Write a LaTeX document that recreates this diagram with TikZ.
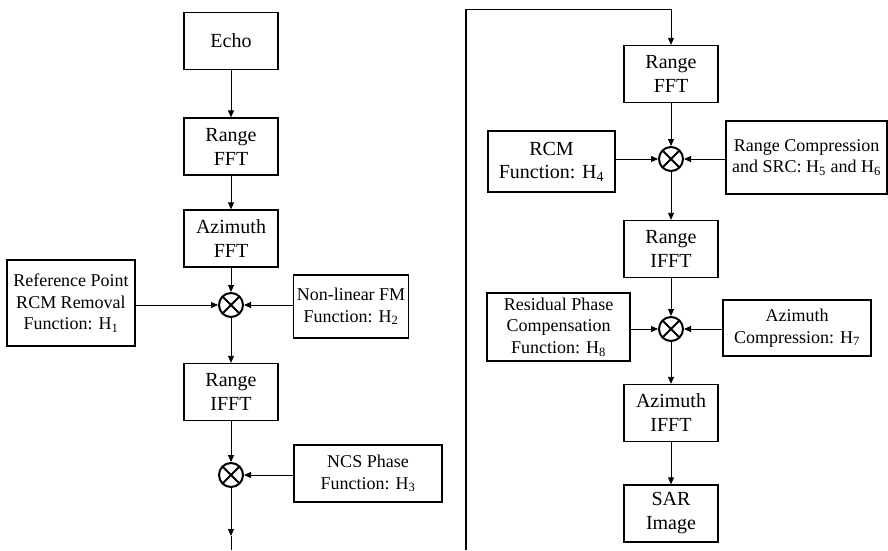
\documentclass[tikz,border=0pt]{standalone}
\usepackage{fontspec}
\setmainfont{Liberation Serif}
\usetikzlibrary{arrows.meta,calc}

\begin{document}
\begin{tikzpicture}[x=1pt,y=-1pt,
  blk/.style={draw,line width=1.3pt,minimum width=94pt,minimum height=57pt,align=center,inner sep=1pt,font=\fontsize{20}{24}\selectfont},
  fn/.style={draw,line width=1.3pt,align=center,inner sep=1pt,font=\fontsize{18}{21.7}\selectfont},
  mult/.style={circle,draw,line width=2pt,minimum size=24pt,inner sep=0pt,
    path picture={\draw[line width=2pt] (path picture bounding box.north west) -- (path picture bounding box.south east)
      (path picture bounding box.north east) -- (path picture bounding box.south west);}},
  arr/.style={line width=0.8pt,-{Triangle[length=7pt,width=6pt]}}]
\useasboundingbox (0,0) rectangle (888,550);

% Left chain
\node[blk] (echo) at (231,41) {Echo};
\node[blk] (rfft) at (231,146.5) {Range\\FFT};
\node[blk] (afft) at (231,238.5) {Azimuth\\FFT};
\node[mult] (m1) at (231,305) {};
\node[fn,minimum width=128pt,minimum height=86pt] (refpt) at (71,303) {Reference Point\\RCM Removal\\Function: H\textsubscript{1}};
\node[fn,minimum width=115pt,minimum height=63pt] (nlfm) at (351,306.5) {Non-linear FM\\Function: H\textsubscript{2}};
\node[blk] (rifft) at (231,392) {Range\\IFFT};
\node[mult] (m2) at (231,475) {};
\node[fn,minimum width=148pt,minimum height=57pt] (ncs) at (368,473.5) {NCS Phase\\Function: H\textsubscript{3}};
\coordinate (outtip) at (231,536);
\coordinate (out) at (231,550);

\draw[arr] (echo) -- (rfft);
\draw[arr] (rfft) -- (afft);
\draw[arr] (afft) -- (m1);
\draw[arr] (refpt.east |- m1) -- (m1);
\draw[arr] (nlfm.west |- m1) -- (m1);
\draw[arr] (m1) -- (rifft);
\draw[arr] (rifft) -- (m2);
\draw[arr] (ncs.west |- m2) -- (m2);
\draw[arr] (m2) -- (outtip);
\draw[line width=0.8pt] (outtip) -- (out);

% Link to right chain
\coordinate (bot) at (466,550);
\coordinate (top) at (466,9);

% Right chain
\node[blk] (rfft2) at (671,74) {Range\\FFT};
\node[mult] (m3) at (671,159) {};
\node[fn,font=\fontsize{20}{23}\selectfont,minimum width=127pt,minimum height=61pt] (rcm) at (551.5,161.5) {RCM\\Function: H\textsubscript{4}};
\node[fn,minimum width=161pt,minimum height=73pt] (rcomp) at (806.5,157.5) {Range Compression\\and SRC: H\textsubscript{5} and H\textsubscript{6}};
\node[blk] (rifft2) at (671,249) {Range\\IFFT};
\node[mult] (m4) at (671,329) {};
\node[fn,minimum width=143pt,minimum height=68pt] (resid) at (558.5,327) {Residual Phase\\Compensation\\Function: H\textsubscript{8}};
\node[fn,minimum width=148pt,minimum height=56pt] (azcomp) at (797,328) {Azimuth\\Compression: H\textsubscript{7}};
\node[blk] (aifft) at (671,413) {Azimuth\\IFFT};
\node[blk] (sar) at (671,513.5) {SAR\\Image};

\draw[line width=1.3pt] (bot) -- (top);
\draw[arr] (top) -| (rfft2);
\draw[arr] (rfft2) -- (m3);
\draw[arr] (rcm.east |- m3) -- (m3);
\draw[arr] (rcomp.west |- m3) -- (m3);
\draw[arr] (m3) -- (rifft2);
\draw[arr] (rifft2) -- (m4);
\draw[arr] (resid.east |- m4) -- (m4);
\draw[arr] (azcomp.west |- m4) -- (m4);
\draw[arr] (m4) -- (aifft);
\draw[arr] (aifft) -- (sar);
\end{tikzpicture}
\end{document}
